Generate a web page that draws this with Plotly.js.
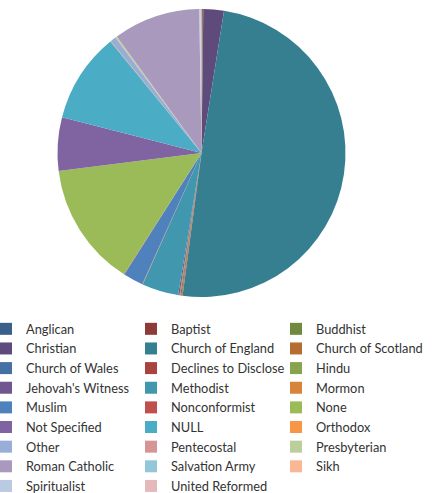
<!DOCTYPE html>
<html>
<head>
<meta charset="utf-8">
<script src="https://cdn.plot.ly/plotly-3.0.1.min.js"></script>
<style>
html,body{margin:0;padding:0;background:#fff;}
#chart{width:432px;height:493px;}
#chart .legend .scrollbox{clip-path:none !important;}
</style>
</head>
<body>
<div id="chart"></div>
<script>
const categories = ["Anglican","Baptist","Buddhist","Christian","Church of England","Church of Scotland",
  "Church of Wales","Declines to Disclose","Hindu","Jehovah's Witness","Methodist","Mormon",
  "Muslim","Nonconformist","None","Not Specified","NULL","Orthodox",
  "Other","Pentecostal","Presbyterian","Roman Catholic","Salvation Army","Sikh",
  "Spiritualist","United Reformed"];
const values = [0.5,1,0.5,23,496,1,
  0.5,1,1,1.5,41,0.5,
  22.5,0.5,139.5,60,101,0.5,
  6.5,0.5,1.5,97.5,0.5,0.5,
  1,0.5];
const colors = ["#3A5F8B","#8E3B38","#71893F","#5E4A7B","#357F91","#B66D31",
  "#4470A6","#A84340","#87A34D","#70578F","#4197AE","#D9843B",
  "#4F81BD","#C0504D","#9BBB59","#8064A2","#4BACC6","#F79646",
  "#97AED6","#D69594","#BACF9A","#A899BD","#93C6D8","#F9B893",
  "#BACAE3","#E3B9B9"];

const W = 432, H = 493, MB = 180;
const PH = H - MB;

const trace = {
  type: 'pie',
  labels: categories,
  values: values,
  sort: false,
  direction: 'clockwise',
  rotation: 0,
  textinfo: 'none',
  hoverinfo: 'label+percent',
  marker: {colors: colors, line: {width: 0}},
  domain: {x: [57.5/W, 345.5/W], y: [1 - 297/PH, 1 - 9/PH]}
};

const layout = {
  width: W, height: H,
  margin: {l: 0, r: 0, t: 0, b: MB, autoexpand: false},
  paper_bgcolor: '#fff',
  showlegend: true,
  legend: {
    orientation: 'h',
    x: -14/W, xanchor: 'left',
    y: (PH - 314)/PH, yanchor: 'top',
    entrywidth: 100, entrywidthmode: 'pixels',
    font: {family: 'Lato, Liberation Sans, Arial, sans-serif', size: 12.8, color: '#333333'},
    traceorder: 'normal'
  },
  font: {family: 'Lato, Liberation Sans, Arial, sans-serif'}
};

Plotly.newPlot('chart', [trace], layout, {displayModeBar: false, staticPlot: true});
</script>
</body>
</html>
